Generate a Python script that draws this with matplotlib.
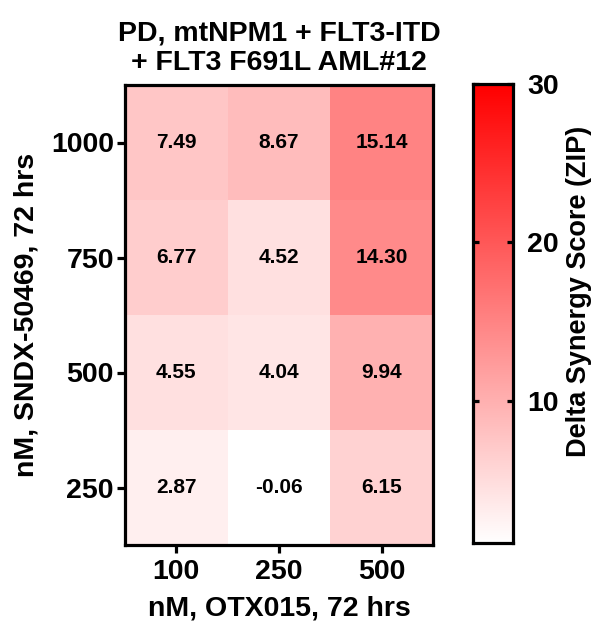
import numpy as np
import matplotlib
matplotlib.use("Agg")
import matplotlib.pyplot as plt
from matplotlib.colors import LinearSegmentedColormap, Normalize

plt.rcParams['font.family'] = ['Liberation Sans', 'DejaVu Sans']
plt.rcParams['font.weight'] = 'bold'

x_labels = ["100", "250", "500"]
y_labels = ["1000", "750", "500", "250"]
values = np.array([
    [7.49, 8.67, 15.14],
    [6.77, 4.52, 14.30],
    [4.55, 4.04, 9.94],
    [2.87, -0.06, 6.15],
])
title = "PD, mtNPM1 + FLT3-ITD\n+ FLT3 F691L AML#12"
xlabel = "nM, OTX015, 72 hrs"
ylabel = "nM, SNDX-50469, 72 hrs"
cbar_label = "Delta Synergy Score (ZIP)"
vmin, vmax = 1.0, 30.0

cmap = LinearSegmentedColormap.from_list("wr", ["#FFFFFF", "#FF0000"])
norm = Normalize(vmin=vmin, vmax=vmax, clip=True)

fig = plt.figure(figsize=(5.93, 6.30), dpi=100)
ax = fig.add_axes([125/593, 1-545/630, 308/593, 460/630])
ax.imshow(values, cmap=cmap, norm=norm, aspect='auto', interpolation='nearest')
for i in range(values.shape[0]):
    for j in range(values.shape[1]):
        ax.text(j, i, f"{values[i, j]:.2f}", ha='center', va='center',
                fontsize=15, fontweight='bold', color='black')
ax.set_xticks(range(len(x_labels)))
ax.set_xticklabels(x_labels, fontsize=20.5, fontweight='bold')
ax.set_yticks(range(len(y_labels)))
ax.set_yticklabels(y_labels, fontsize=20.5, fontweight='bold')
ax.tick_params(width=2.3, length=6, direction='out', pad=2)
ax.tick_params(axis='x', pad=4)
for s in ax.spines.values():
    s.set_linewidth(2.3)
ax.set_xlabel(xlabel, fontsize=20.5, fontweight='bold', labelpad=8)
ax.set_ylabel(ylabel, fontsize=20.5, fontweight='bold', labelpad=8)
ax.set_title(title, fontsize=20.5, fontweight='bold', pad=11, linespacing=1.15)

cax = fig.add_axes([473/593, 1-543/630, 40/593, 459/630])
grad = np.linspace(vmin, vmax, 256).reshape(-1, 1)
cax.imshow(grad, cmap=cmap, norm=norm, aspect='auto', origin='lower',
           extent=[0, 1, vmin, vmax])
cax.set_xlim(0, 1)
cax.set_ylim(vmin, vmax)
cax.set_xticks([])
cax.yaxis.tick_right()
cax.set_yticks([10, 20, 30])
cax.set_yticklabels(["10", "20", "30"], fontsize=20.5, fontweight='bold')
cax.tick_params(axis='y', direction='in', length=4, width=2.3, pad=10,
                left=True, right=True, labelleft=False, labelright=True)
for s in cax.spines.values():
    s.set_linewidth(2.3)
fig.text(579/593, 1-291/630, cbar_label, rotation=90, ha='center', va='center',
         fontsize=19.5, fontweight='bold')

fig.savefig("out.png", dpi=100)
